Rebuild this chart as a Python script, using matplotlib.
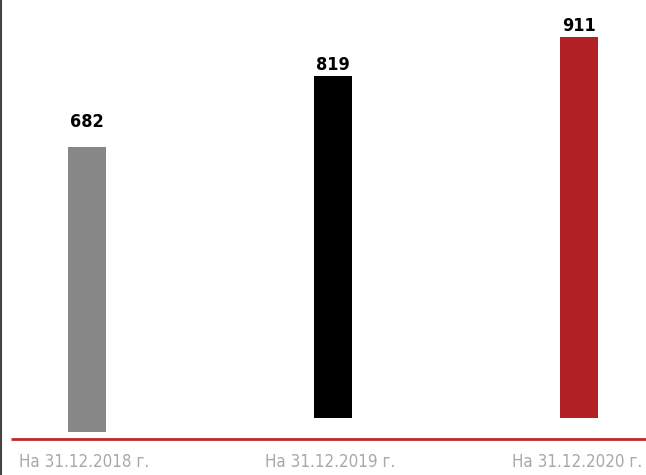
import matplotlib

matplotlib.use("Agg")

import matplotlib.pyplot as plt

# data
categories = ["На 31.12.2018 г.", "На 31.12.2019 г.", "На 31.12.2020 г."]
values = [682, 819, 911]
bar_bottoms = [-33, 0, 0]
colors = ["#878787", "#000000", "#b02024"]

fig = plt.figure(figsize=(6.46, 4.75), dpi=100)
ax = fig.add_axes([0, 0, 1, 1])

x = range(len(values))
ax.bar(x, values, width=0.155, bottom=bar_bottoms, color=colors)

for i, v in enumerate(values):
    ax.annotate(str(v), (i, v), xytext=(0, 1.5), textcoords="offset points",
                ha="center", va="bottom", fontsize=13, fontweight="bold",
                family="DejaVu Sans", fontstretch="condensed")

# red baseline
ax.plot([-0.31, 2.28], [-50, -50], color="#c0282d", lw=2, solid_capstyle="butt")

for i, c in enumerate(categories):
    ax.text(i - 0.01, -105, c, ha="center", va="center", fontsize=12.2,
            color="#a8a8a8", family="DejaVu Sans", fontstretch="condensed")

# left border line
ax.plot([-0.348, -0.348], [-140, 1005], color="#444444", lw=1.5)

ax.set_xlim(-0.354, 2.272)
ax.set_ylim(-136, 1000)
ax.axis("off")

fig.savefig("out.png", dpi=100)
